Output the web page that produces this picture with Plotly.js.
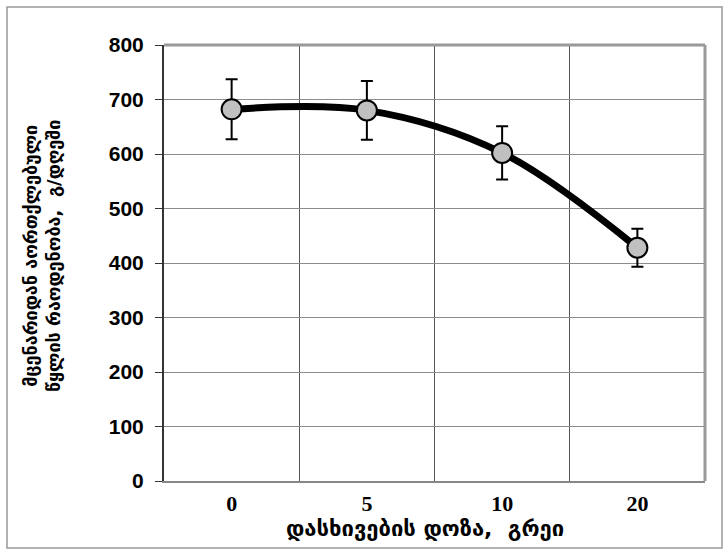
<!DOCTYPE html>
<html>
<head>
<meta charset="utf-8">
<script src="https://cdn.plot.ly/plotly-3.0.1.min.js"></script>
<style>
html,body{margin:0;padding:0;background:#fff;}
#chart{width:724px;height:551px;}
</style>
</head>
<body>
<div id="chart"></div>
<script>
// Data
const doseLabels = ['0', '5', '10', '20'];
const evaporation = [682, 680, 602, 428];
const errorPlusMinus = [55, 54, 49, 35];
const yTickValues = [0, 100, 200, 300, 400, 500, 600, 700, 800];

const yTitle = 'მცენარიდან აორთქლებული<br>წყლის რაოდენობა,  გ/დღეში';
const xTitle = 'დასხივების დოზა,  გრეი';

const L = 164, R = 705, T = 45, B = 481, W = 724, H = 551;
const px = v => (v - L) / (R - L);
const py = v => (B - v) / (B - T);

const trace = {
  x: doseLabels,
  y: evaporation,
  type: 'scatter',
  mode: 'lines+markers',
  line: {color: '#000', width: 7, shape: 'spline', smoothing: 1},
  marker: {size: 20, color: '#c0c0c0', line: {color: '#000', width: 2}},
  error_y: {type: 'data', array: errorPlusMinus, visible: true, color: '#000', thickness: 2, width: 6},
  cliponaxis: false,
  hoverinfo: 'none'
};

const layout = {
  width: W, height: H,
  margin: {l: L, r: W - R, t: T, b: H - B, pad: 0},
  paper_bgcolor: '#fff',
  plot_bgcolor: '#fff',
  showlegend: false,
  xaxis: {
    type: 'category',
    range: [-0.5, doseLabels.length - 0.5],
    autorange: false,
    tickson: 'boundaries',
    showgrid: true,
    gridcolor: '#555',
    gridwidth: 1,
    ticks: '',
    showline: true,
    linecolor: '#888',
    linewidth: 2,
    tickfont: {family: 'Liberation Serif, Times New Roman, serif', size: 22, color: '#000', weight: 'bold'},
    ticklabelstandoff: 2,
    zeroline: false,
    fixedrange: true
  },
  yaxis: {
    range: [0, 800],
    autorange: false,
    tickvals: yTickValues,
    ticktext: yTickValues.map(String),
    showgrid: true,
    gridcolor: '#8c8c8c',
    gridwidth: 1,
    ticks: 'outside',
    ticklen: 7,
    tickcolor: '#333',
    tickwidth: 1,
    showline: true,
    linecolor: '#333',
    linewidth: 2,
    zeroline: false,
    tickfont: {family: 'Liberation Sans, Arial, sans-serif', size: 21, color: '#000', weight: 'bold'},
    ticklabelstandoff: 7,
    fixedrange: true
  },
  shapes: [
    {type: 'line', xref: 'paper', yref: 'paper', x0: 0, x1: 1, y0: 1, y1: 1, line: {color: '#999', width: 3}},
    {type: 'line', xref: 'paper', yref: 'paper', x0: 1, x1: 1, y0: 0, y1: 1, line: {color: '#999', width: 3}},
    {type: 'rect', xref: 'paper', yref: 'paper', x0: px(7), x1: px(722), y0: py(548), y1: py(7), line: {color: '#999', width: 1.5}, fillcolor: 'rgba(0,0,0,0)'}
  ],
  annotations: [
    {text: yTitle, xref: 'paper', yref: 'paper', x: px(42), y: py(256), xanchor: 'center', yanchor: 'middle',
     textangle: -90, showarrow: false, align: 'center',
     font: {family: 'DejaVu Sans, DejaVu Serif, sans-serif', size: 18, color: '#000', weight: 'bold'}},
    {text: xTitle, xref: 'paper', yref: 'paper', x: px(425), y: py(528), xanchor: 'center', yanchor: 'middle',
     showarrow: false,
     font: {family: 'DejaVu Sans, DejaVu Serif, sans-serif', size: 22, color: '#000', weight: 'bold'}}
  ]
};

Plotly.newPlot('chart', [trace], layout, {displayModeBar: false, staticPlot: true});
</script>
</body>
</html>
